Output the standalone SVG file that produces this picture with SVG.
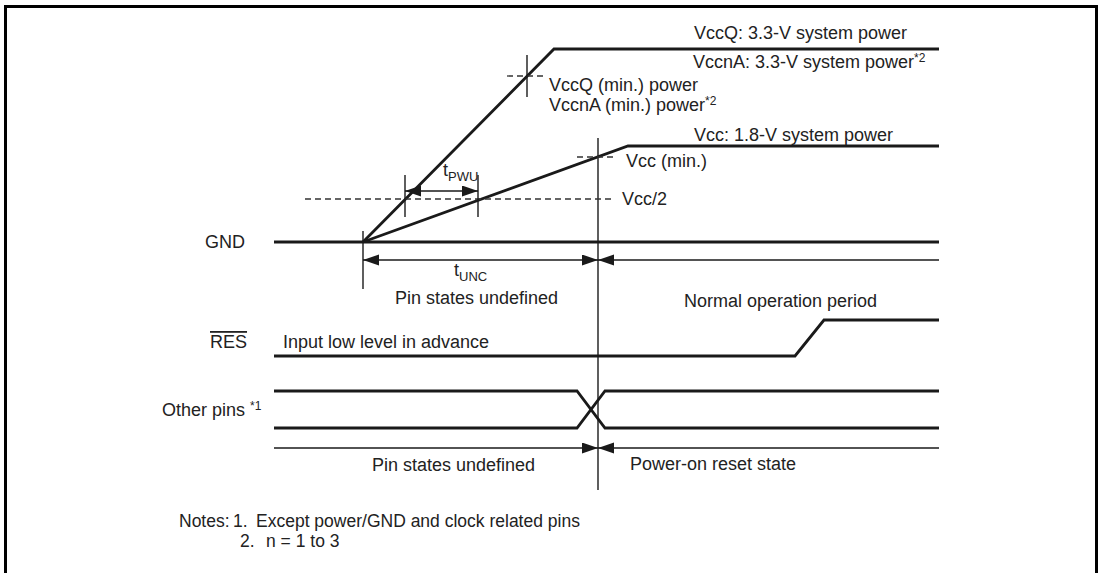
<svg xmlns="http://www.w3.org/2000/svg" width="1102" height="573" viewBox="0 0 1102 573">
<style>
text{font-family:"Liberation Sans",Arial,sans-serif;font-size:18px;fill:#222}
.note{font-size:17.5px}
.sig{fill:none;stroke:#1a1a1a;stroke-width:2.8;stroke-linejoin:miter}
.thin{fill:none;stroke:#1a1a1a;stroke-width:1.4}
.dash{fill:none;stroke:#333;stroke-width:1.3;stroke-dasharray:6 4}
.sup{font-size:12px}
.sub{font-size:13px}
</style>
<defs>
<marker id="ah" markerUnits="userSpaceOnUse" markerWidth="16" markerHeight="12" refX="16" refY="5.5" orient="auto-start-reverse">
<path d="M0,0 L16,5.5 L0,11 z" fill="#1a1a1a"/>
</marker>
</defs>
<rect x="5.5" y="6.5" width="1091" height="620" fill="#fff" stroke="#000" stroke-width="3"/>

<g id="connectors">
<polyline class="sig" points="363,242 554,49 939,49"/>
<polyline class="sig" points="363,242 628,146 939,146"/>
<line class="sig" x1="274" y1="242" x2="939" y2="242"/>
<polyline class="sig" points="274,356 795,356 824,320 939,320"/>
<polyline class="sig" points="274,391 577,391 605,428 939,428"/>
<polyline class="sig" points="274,428 577,428 605,391 939,391"/>
<line class="thin" x1="598" y1="138" x2="598" y2="490"/>
<line class="dash" x1="507" y1="76" x2="547" y2="76"/>
<line class="thin" x1="527" y1="55" x2="527" y2="97"/>
<line class="dash" x1="577" y1="157" x2="614" y2="157"/>
<line class="dash" x1="305" y1="199" x2="614" y2="199"/>
<line class="thin" x1="405" y1="175" x2="405" y2="217"/>
<line class="thin" x1="478" y1="175" x2="478" y2="217"/>
<line class="thin" x1="405" y1="191" x2="478" y2="191" marker-start="url(#ah)" marker-end="url(#ah)"/>
<line class="thin" x1="363" y1="231" x2="363" y2="289"/>
<line class="thin" x1="363" y1="260" x2="598" y2="260" marker-start="url(#ah)" marker-end="url(#ah)"/>
<line class="thin" x1="598" y1="260" x2="939" y2="260" marker-start="url(#ah)"/>
<line class="thin" x1="274" y1="448" x2="598" y2="448" marker-end="url(#ah)"/>
<line class="thin" x1="598" y1="448" x2="939" y2="448" marker-start="url(#ah)"/>
</g>

<g id="label-vccq"><text x="694" y="39">VccQ: 3.3-V system power</text></g>
<g id="label-vccna"><text x="693" y="68">VccnA: 3.3-V system power<tspan class="sup" dy="-6">*2</tspan></text></g>
<g id="label-vccq-min"><text x="549" y="91">VccQ (min.) power</text></g>
<g id="label-vccna-min"><text x="549" y="111">VccnA (min.) power<tspan class="sup" dy="-6">*2</tspan></text></g>
<g id="label-vcc"><text x="694" y="141">Vcc: 1.8-V system power</text></g>
<g id="label-vcc-min"><text x="626" y="167">Vcc (min.)</text></g>
<g id="label-vcc-half"><text x="622" y="205">Vcc/2</text></g>
<g id="label-tpwu"><text x="443" y="176">t<tspan class="sub" dy="5">PWU</tspan></text></g>
<g id="label-gnd"><text x="205" y="248">GND</text></g>
<g id="label-tunc"><text x="454" y="276">t<tspan class="sub" dy="5">UNC</tspan></text></g>
<g id="label-undef1"><text x="395" y="304">Pin states undefined</text></g>
<g id="label-normal"><text x="684" y="307">Normal operation period</text></g>
<g id="label-res"><text x="210" y="348" text-decoration="overline">RES</text></g>
<g id="label-input-low"><text x="283" y="348">Input low level in advance</text></g>
<g id="label-other"><text x="162" y="416">Other pins <tspan class="sup" dy="-6">*1</tspan></text></g>
<g id="label-undef2"><text x="372" y="471">Pin states undefined</text></g>
<g id="label-por"><text x="630" y="470">Power-on reset state</text></g>
<g id="notes">
<text class="note" x="179" y="527">Notes:</text>
<text class="note" x="233" y="527">1.</text>
<text class="note" x="256" y="527">Except power/GND and clock related pins</text>
<text class="note" x="240" y="547">2.</text>
<text class="note" x="266" y="547">n = 1 to 3</text>
</g>
</svg>
